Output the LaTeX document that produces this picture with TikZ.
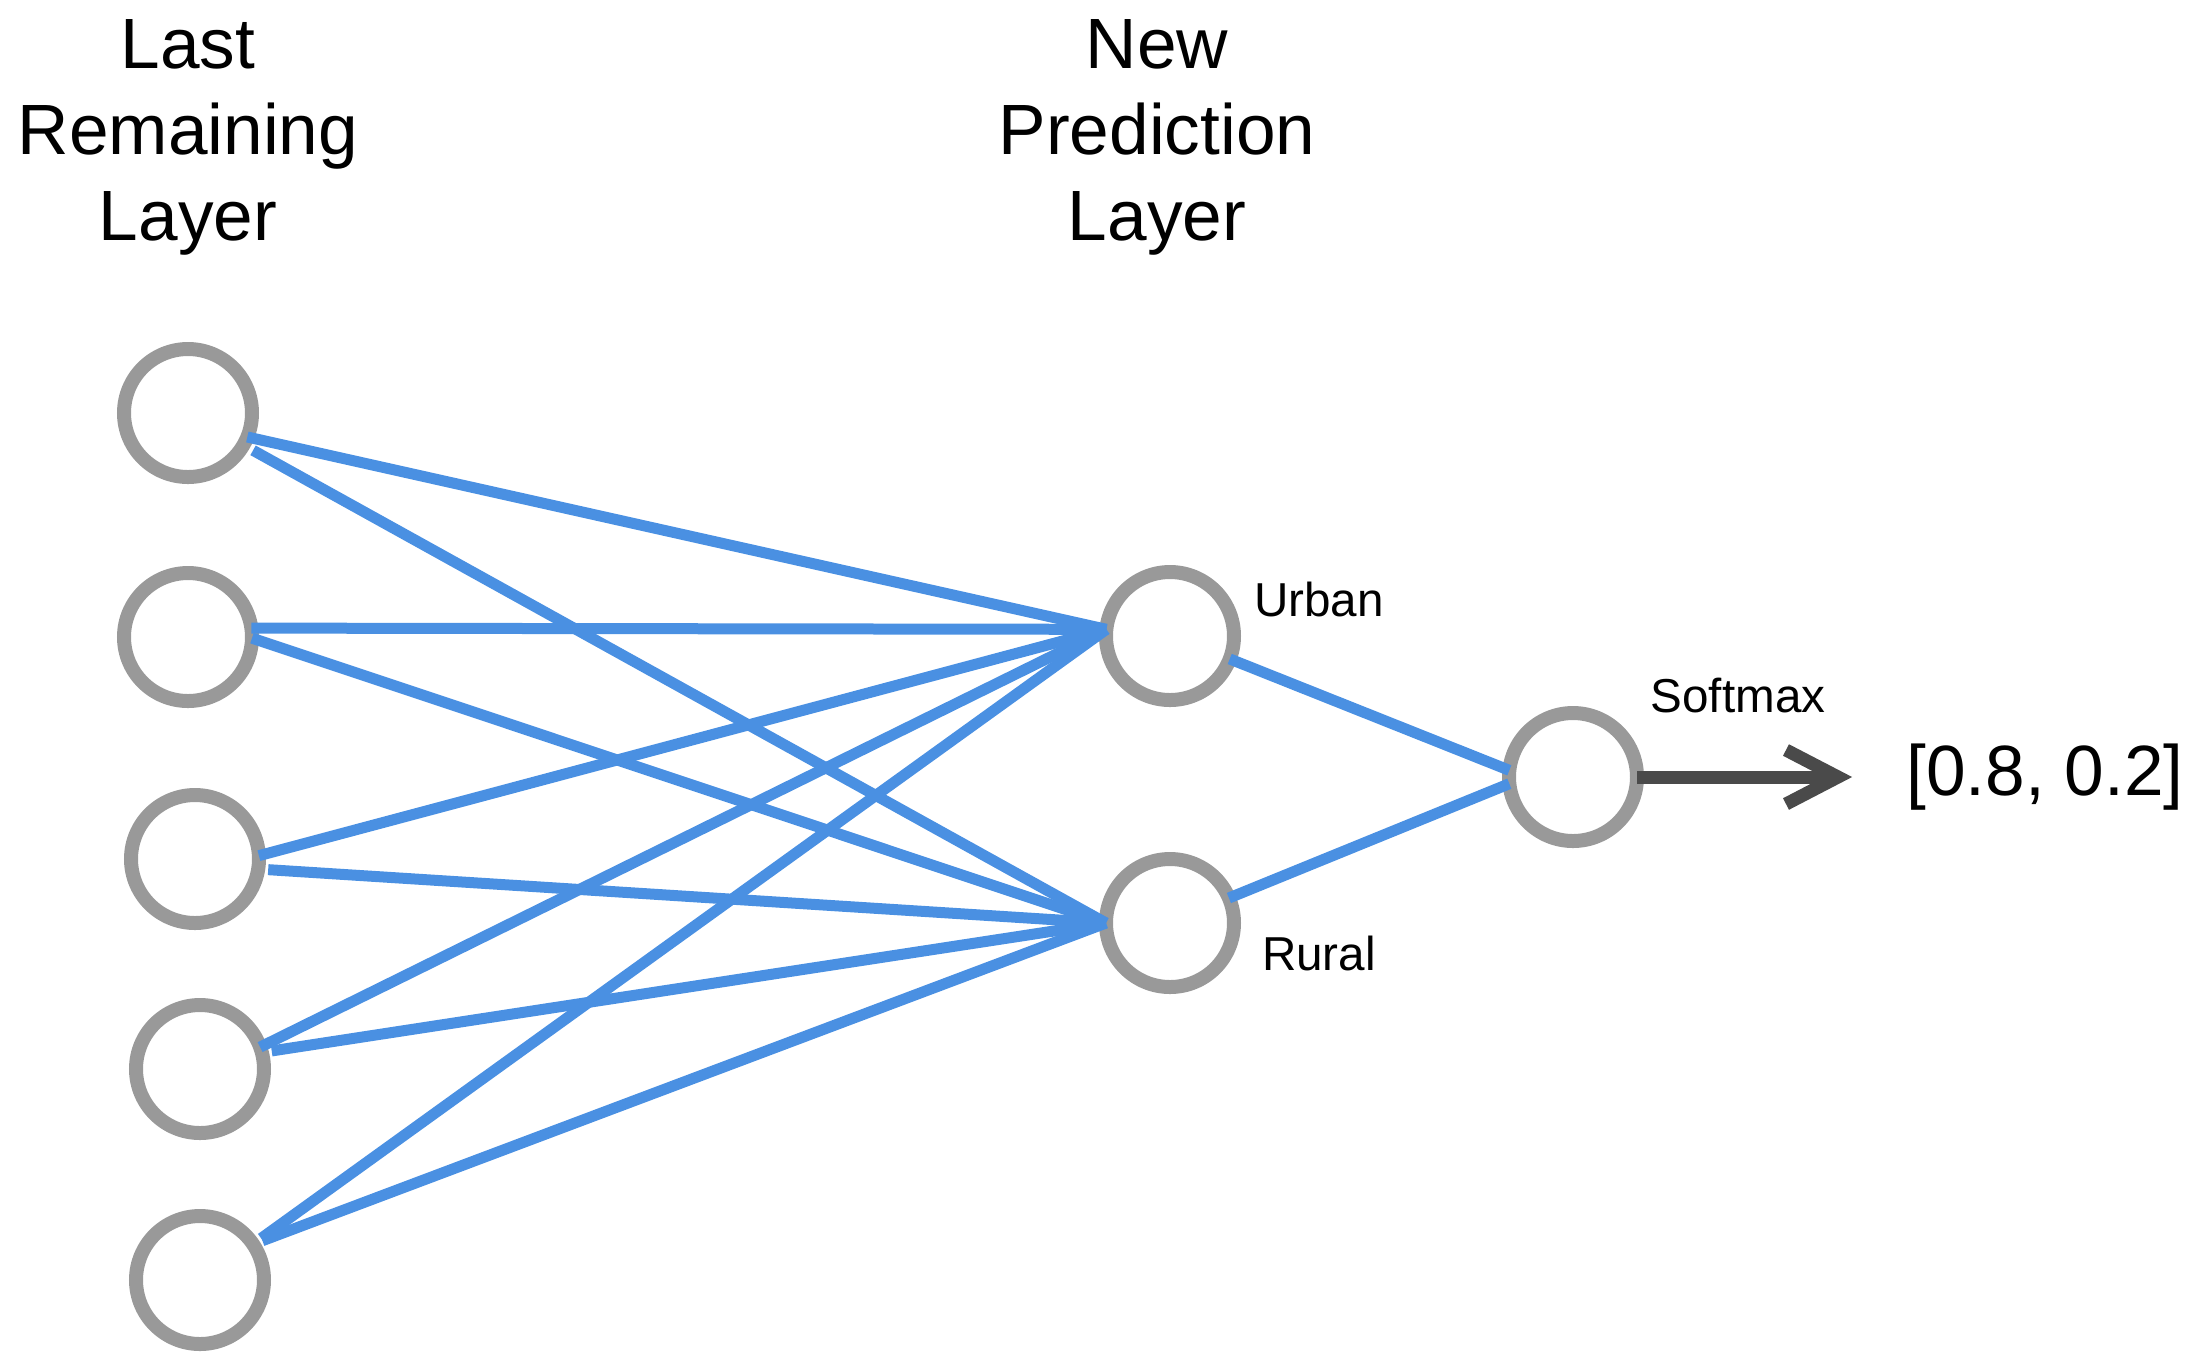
\documentclass[tikz,border=0pt]{standalone}
\usepackage{fontspec}
\setmainfont{Liberation Sans}
\usetikzlibrary{calc}
\definecolor{ringgray}{HTML}{999999}
\definecolor{linkblue}{HTML}{4A90E2}
\definecolor{arrowgray}{HTML}{4A4A4A}
\begin{document}
\begin{tikzpicture}[x=0.25pt,y=-0.25pt,
  neuron/.style={circle, draw=ringgray, line width=3.5pt, minimum size=32pt, inner sep=0pt, outer sep=0pt, fill=white},
  link/.style={draw=linkblue, line width=2.75pt},
  outarrow/.style={draw=arrowgray, line width=3.25pt},
  bigtext/.style={font=\fontsize{17.8}{21.4}\selectfont, align=center, inner sep=0pt},
  smalltext/.style={font=\fontsize{11.9}{14}\selectfont, inner sep=0pt, anchor=base}]
\useasboundingbox (0,0) rectangle (2210,1364);
% neurons
\node[neuron] (L1) at (188,413) {};
\node[neuron] (L2) at (188,637) {};
\node[neuron] (L3) at (195,859) {};
\node[neuron] (L4) at (200,1069) {};
\node[neuron] (L5) at (200,1280) {};
\node[neuron] (U) at (1170,636) {};
\node[neuron] (R) at (1170,923) {};
\node[neuron] (S) at (1573,777) {};
% labels
\node[bigtext, anchor=north] (hl) at (188,19) {Last\\Remaining\\Layer};
\node[bigtext, anchor=north] (hn) at (1157,19) {New\\Prediction\\Layer};
\node[smalltext] (tu) at (1319,616) {Urban};
\node[smalltext] (tr) at (1319,970) {Rural};
\node[smalltext] (ts) at (1738,712) {Softmax};
\node[font=\fontsize{17.8}{21}\selectfont, inner sep=0pt, anchor=base] (out) at (2045,795) {[0.8, 0.2]};
% links
\draw[link] (L1.-22) -- (U.174);
\draw[link, shorten <=2.75pt] (L1.-30) -- (R.180);
\draw[link] (L2.8) -- (U.174);
\draw[link] (L2.-1) -- (R.180);
\draw[link] (L3.3) -- (U.174);
\draw[link, shorten <=2.5pt] (L3.-9) -- (R.180);
\draw[link] (L4.20) -- (U.174);
\draw[link, shorten <=2.5pt] (L4.15) -- (R.180);
\draw[link, shorten <=2.5pt] (L5.34) -- (U.174);
\draw[link, shorten <=2.5pt] (L5.34) -- (R.180);
\draw[link] (U.-21) -- (S.174);
\draw[link] (R.23) -- (S.-174);
% output arrow
\coordinate (tip) at (1838,777);
\draw[outarrow] (S.east) -- ($(tip)+(-6,0)$);
\draw[outarrow, miter limit=10] ($(tip)+(-52,-27)$) -- (tip) -- ($(tip)+(-52,27)$);
\end{tikzpicture}
\end{document}
